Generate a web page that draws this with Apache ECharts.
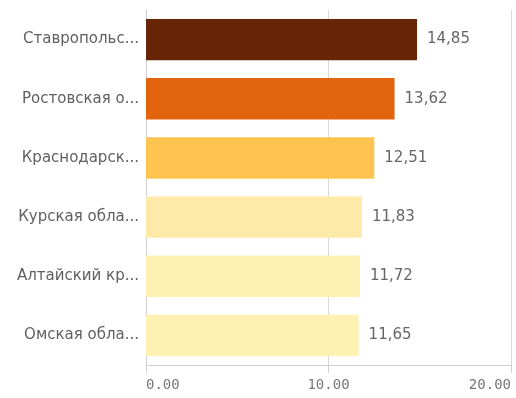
<!DOCTYPE html>
<html>
<head>
<meta charset="utf-8">
<script src="https://cdn.jsdelivr.net/npm/echarts@6/dist/echarts.min.js"></script>
<style>
  html, body { margin: 0; padding: 0; background: #fff; }
  #chart { width: 516px; height: 398px; }
</style>
</head>
<body>
<div id="chart"></div>
<script>
// регионы (подписи уже обрезаны как на картинке)
const regions = ['Ставропольс...', 'Ростовская о...', 'Краснодарск...', 'Курская обла...', 'Алтайский кр...', 'Омская обла...'];
const values = [14.85, 13.62, 12.51, 11.83, 11.72, 11.65];
const barColors = ['#662506', '#e2640f', '#fec44f', '#fdeaa8', '#fff0b3', '#fff0b3'];

const chart = echarts.init(document.getElementById('chart'));

chart.setOption({
  animation: false,
  grid: { left: 146, right: 5, top: 10, bottom: 33, containLabel: false, outerBoundsMode: 'none' },
  xAxis: {
    type: 'value',
    min: 0,
    max: 20,
    interval: 10,
    axisLine: { show: true, lineStyle: { color: '#cfcfcf' } },
    axisTick: { show: true, length: 8, lineStyle: { color: '#cfcfcf' } },
    splitLine: { show: true, lineStyle: { color: '#d9d9d9' } },
    axisLabel: {
      margin: 13,
      color: '#777',
      fontFamily: 'DejaVu Sans Mono',
      fontSize: 14,
      alignMinLabel: 'left',
      alignMaxLabel: 'right',
      formatter: v => v.toFixed(2)
    }
  },
  yAxis: {
    type: 'category',
    inverse: true,
    data: regions,
    axisLine: { show: true, lineStyle: { color: '#cfcfcf' } },
    axisTick: { show: false },
    axisLabel: {
      margin: 7,
      color: '#606060',
      fontFamily: 'DejaVu Sans',
      fontSize: 15
    }
  },
  series: [{
    type: 'bar',
    data: values.map((v, i) => ({ value: v, itemStyle: { color: barColors[i] } })),
    barCategoryGap: '30%',
    label: {
      show: true,
      position: 'right',
      distance: 10,
      color: '#666',
      fontFamily: 'DejaVu Sans',
      fontSize: 15,
      formatter: p => p.value.toFixed(2).replace('.', ',')
    }
  }]
});
</script>
</body>
</html>
